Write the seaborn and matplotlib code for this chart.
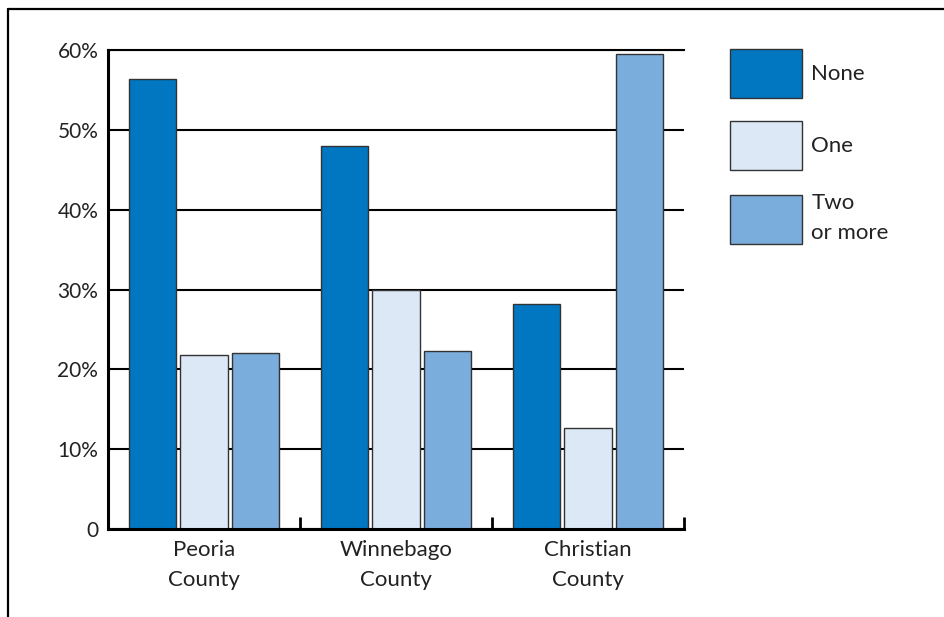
import matplotlib
matplotlib.use("Agg")
import matplotlib.pyplot as plt
import matplotlib.patches as mpatches
from matplotlib.lines import Line2D
import seaborn as sns
import pandas as pd

counties = ["Peoria\nCounty", "Winnebago\nCounty", "Christian\nCounty"]
groups = ["None", "One", "Two\nor more"]
none_vals = [56.4, 48.0, 28.2]
one_vals = [21.8, 29.9, 12.6]
two_vals = [22.0, 22.3, 59.5]
yticks = [0, 10, 20, 30, 40, 50, 60]
ytick_labels = ["0", "10%", "20%", "30%", "40%", "50%", "60%"]
colors = ["#0077C0", "#DCE8F5", "#7AACDC"]

rows = []
for series, vals in zip(groups, [none_vals, one_vals, two_vals]):
    for c, v in zip(counties, vals):
        rows.append({"county": c, "group": series, "value": v})
df = pd.DataFrame(rows)

sns.set_theme(style="white")
plt.rcParams["font.family"] = ["Lato", "DejaVu Sans"]
TXT = "#222222"

fig = plt.figure(figsize=(9.44, 6.17), dpi=100)
ax = fig.add_axes([108/944, 1-529/617, (684-108)/944, (529-50)/617])

sns.barplot(data=df, x="county", y="value", hue="group", hue_order=groups,
            palette=colors, order=counties, width=0.8, gap=0.08, saturation=1,
            edgecolor="#333333", linewidth=1.0, legend=False, ax=ax, zorder=3)

ax.set_xlim(-0.5, 2.5)
ax.set_ylim(0, 60)
ax.set_yticks(yticks)
ax.set_yticklabels(ytick_labels)
ax.set_xlabel("")
ax.set_ylabel("")

ax.set_axisbelow(True)
ax.yaxis.grid(True, color="black", linewidth=1.5)
ax.xaxis.grid(False)

for s in ["left", "bottom"]:
    ax.spines[s].set_visible(True)
    ax.spines[s].set_color("black")
    ax.spines[s].set_linewidth(2.2)
    ax.spines[s].set_zorder(4)
ax.spines["top"].set_visible(True)
ax.spines["top"].set_color("black")
ax.spines["top"].set_linewidth(1.5)
ax.spines["right"].set_visible(False)

ax.tick_params(axis="y", length=0, pad=7, labelsize=15, labelcolor=TXT)
ax.tick_params(axis="x", which="major", length=0, pad=8, labelsize=16, labelcolor=TXT)
ax.set_xticks([0.5, 1.5, 2.5], minor=True)
ax.tick_params(axis="x", which="minor", direction="in", length=8.5, width=2.0,
               color="black", bottom=True)
for lab in ax.get_xticklabels():
    lab.set_linespacing(1.6)

handles = [mpatches.Patch(facecolor=c, edgecolor="#333333", linewidth=1.0) for c in colors]
leg = fig.legend(handles, groups, loc="upper left",
                 bbox_to_anchor=(730/944, 1-49/617), bbox_transform=fig.transFigure,
                 frameon=False, borderpad=0, borderaxespad=0,
                 handlelength=3.26, handleheight=3.02, handletextpad=0.4,
                 labelspacing=1.04, fontsize=16)
for t in leg.get_texts():
    t.set_color(TXT)
    t.set_linespacing(1.6)

fig.add_artist(Line2D([8/944, 1.0], [1-9/617, 1-9/617], transform=fig.transFigure,
                      color="black", linewidth=1.6))
fig.add_artist(Line2D([8/944, 8/944], [1-9/617, 0.0], transform=fig.transFigure,
                      color="black", linewidth=1.6))

fig.savefig("out.png", dpi=100, facecolor="white")
